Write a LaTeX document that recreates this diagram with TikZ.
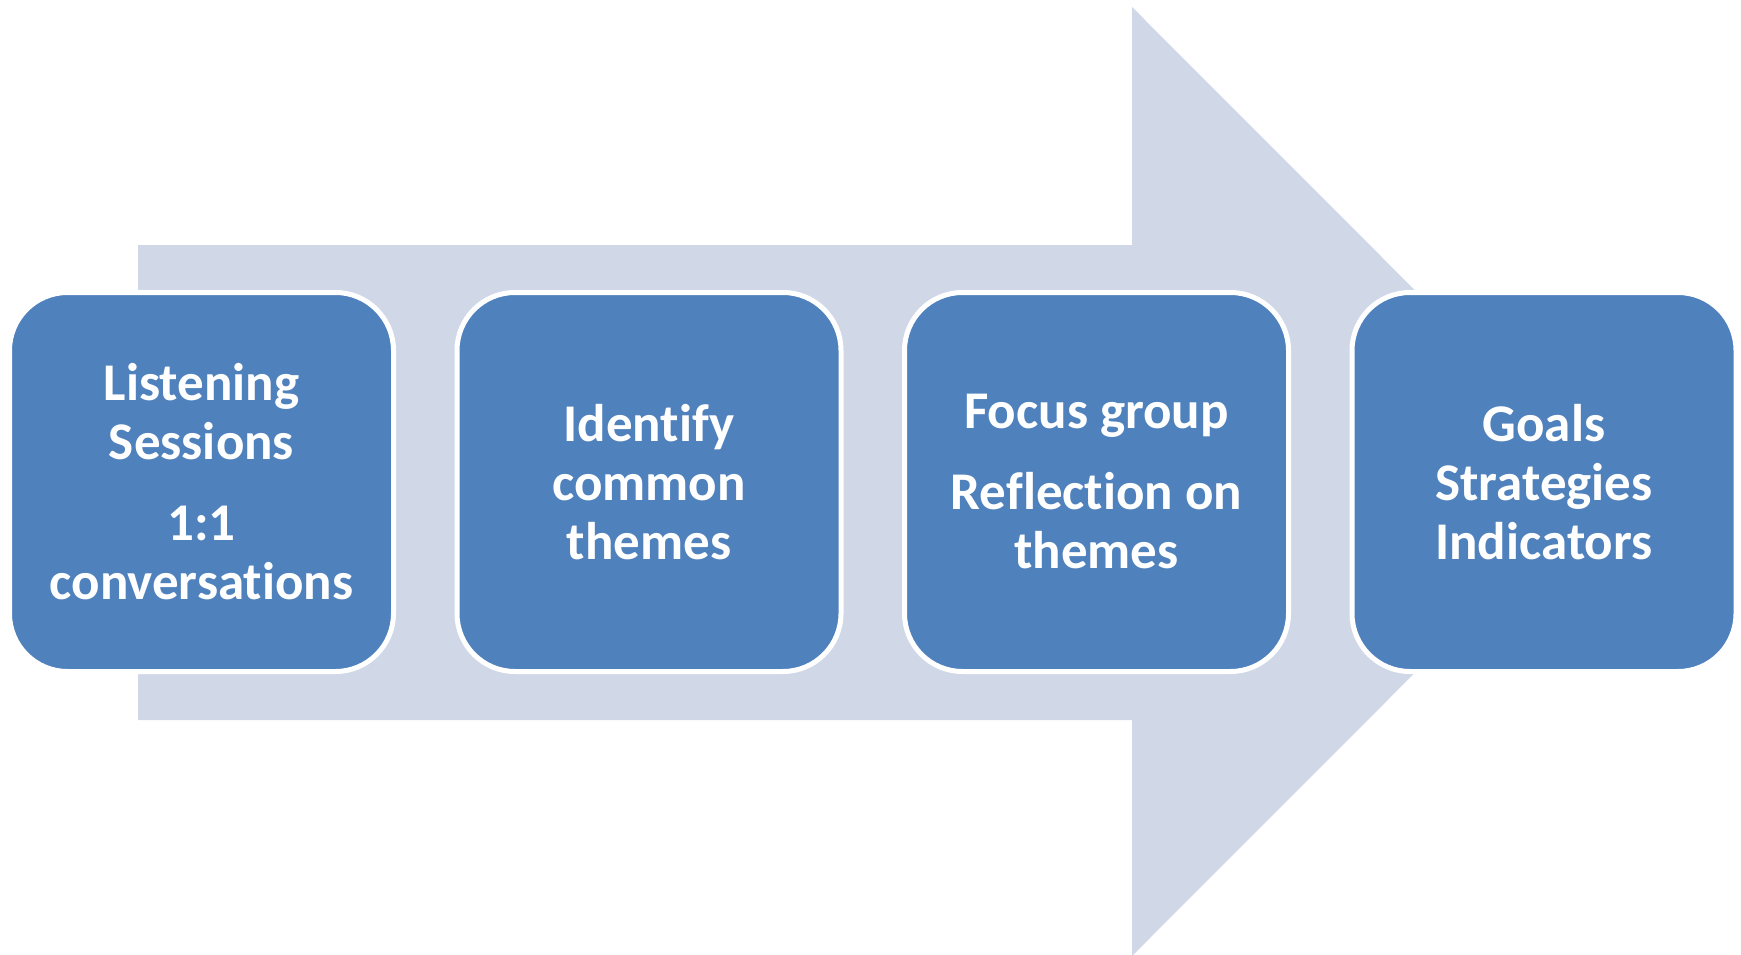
\documentclass[tikz,border=0pt]{standalone}
\usepackage{fontspec}
\setmainfont{Carlito}[Ligatures=NoCommon]
\usetikzlibrary{positioning}
\definecolor{stageblue}{HTML}{4F81BD}
\definecolor{flowgray}{HTML}{D0D8E8}
\tikzset{
  stage/.style = {
    draw=white, line width=5pt, fill=stageblue,
    rounded corners=58pt,
    minimum width=384pt, minimum height=379pt,
    inner sep=0pt, text width=350pt, align=flush center,
    text=white, font=\fontsize{53}{59}\selectfont\bfseries
  }
}

\begin{document}
\begin{tikzpicture}[x=1pt,y=-1pt]
  \useasboundingbox (0,0) rectangle (1741,955);
  % big background arrow
  \fill[flowgray] (138,245) -- (1132,245) -- (1132,7) -- (1606,481.5)
    -- (1132,956) -- (1132,720) -- (138,720) -- cycle;
  % the four stages
  \node[stage] (listen) at (201.5,482) {Listening\\Sessions\\[22pt]1:1\\conversations};
  \node[stage, right=58.5pt of listen] (themes) {Identify\\common\\themes};
  \node[stage, right=58.5pt of themes] (focus) {Focus group\\[22pt]Reflection on\\themes};
  \node[stage, right=58.5pt of focus] (goals) {Goals\\Strategies\\Indicators};
\end{tikzpicture}
\end{document}
